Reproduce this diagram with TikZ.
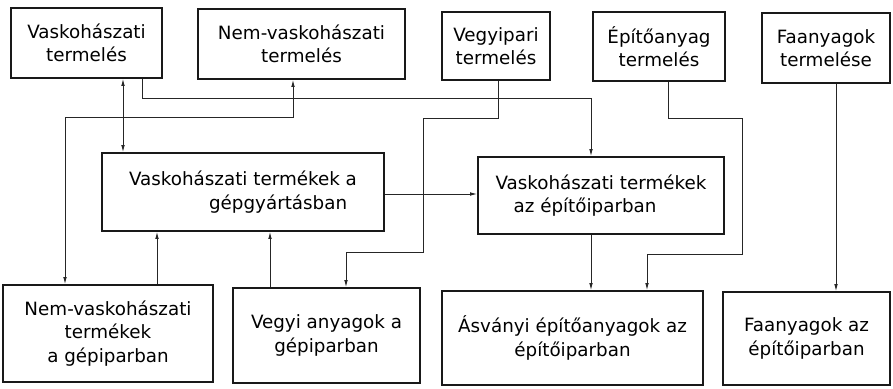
\documentclass[tikz,border=0pt]{standalone}
\usepackage{fontspec}
\setmainfont{DejaVu Sans}
\usetikzlibrary{arrows.meta}
\begin{document}
\begin{tikzpicture}[x=1pt,y=-1pt,
  box/.style={draw=black!90, line width=1.7pt, inner sep=0pt, align=center,
    font=\fontsize{18.3}{23.5}\selectfont},
  conn/.style={draw=black!85, line width=0.9pt},
  tip/.style={-{Latex[length=7pt,width=3.6pt]}},
  tips/.style={{Latex[length=7pt,width=3.6pt]}-{Latex[length=7pt,width=3.6pt]}}]
\useasboundingbox (0,0) rectangle (893,388);
% top row
\node[box, minimum width=151pt, minimum height=70pt] (b1) at (86.5,43) {Vaskohászati\\termelés};
\node[box, minimum width=207pt, minimum height=70pt] (b2) at (301.5,44) {Nem-vaskohászati\\termelés};
\node[box, minimum width=108pt, minimum height=68pt] (b3) at (496,46) {Vegyipari\\termelés};
\node[box, minimum width=132pt, minimum height=69pt] (b4) at (659,46.5) {Építőanyag\\termelés};
\node[box, minimum width=128pt, minimum height=70pt] (b5) at (826,48) {Faanyagok\\termelése};
% middle row
\node[box, align=left, minimum width=282pt, minimum height=78pt] (b6) at (243,192) {Vaskohászati termékek a\\\hspace*{80pt}gépgyártásban};
\node[box, align=left, minimum width=246pt, minimum height=77pt] (b7) at (601,195.5) {Vaskohászati termékek\\\hspace*{18pt}az építőiparban};
% bottom row
\node[box, minimum width=210pt, minimum height=97pt] (b8) at (108,333.5) {Nem-vaskohászati\\termékek\\a gépiparban};
\node[box, minimum width=187pt, minimum height=95pt] (b9) at (326.5,335.5) {Vegyi anyagok a\\gépiparban};
\node[box, minimum width=261pt, minimum height=94pt] (b10) at (572.5,338) {Ásványi építőanyagok az\\építőiparban};
\node[box, minimum width=167pt, minimum height=93pt] (b11) at (806.5,338.5) {Faanyagok az\\építőiparban};
% routing coordinates
\coordinate (xA) at (123,0);
\coordinate (B1) at (142,98);
\coordinate (B2) at (591,98);
\coordinate (C1) at (65,117);
\coordinate (C2) at (293,117);
\coordinate (D1) at (498,118);
\coordinate (D2) at (423,118);
\coordinate (D3) at (423,252);
\coordinate (D4) at (346,252);
\coordinate (E1) at (668,118);
\coordinate (E2) at (742,118);
\coordinate (E3) at (742,254);
\coordinate (E4) at (647,254);
\coordinate (xF) at (836,0);
\coordinate (yG) at (0,194);
\coordinate (xH) at (591,0);
\coordinate (xI) at (157,0);
\coordinate (xJ) at (270,0);
% connectors
\draw[conn, tips] (b1.south -| xA) -- (b6.north -| xA);
\draw[conn, tip] (b1.south -| B1) -- (B1) -- (B2) -- (b7.north -| B2);
\draw[conn, tips] (b8.north -| C1) -- (C1) -- (C2) -- (b2.south -| C2);
\draw[conn, tip] (b3.south -| D1) -- (D1) -- (D2) -- (D3) -- (D4) -- (b9.north -| D4);
\draw[conn, tip] (b4.south -| E1) -- (E1) -- (E2) -- (E3) -- (E4) -- (b10.north -| E4);
\draw[conn, tip] (b5.south -| xF) -- (b11.north -| xF);
\draw[conn, tip] (b6.east |- yG) -- (b7.west |- yG);
\draw[conn, tip] (b7.south -| xH) -- (b10.north -| xH);
\draw[conn, tip] (b8.north -| xI) -- (b6.south -| xI);
\draw[conn, tip] (b9.north -| xJ) -- (b6.south -| xJ);
\end{tikzpicture}
\end{document}
